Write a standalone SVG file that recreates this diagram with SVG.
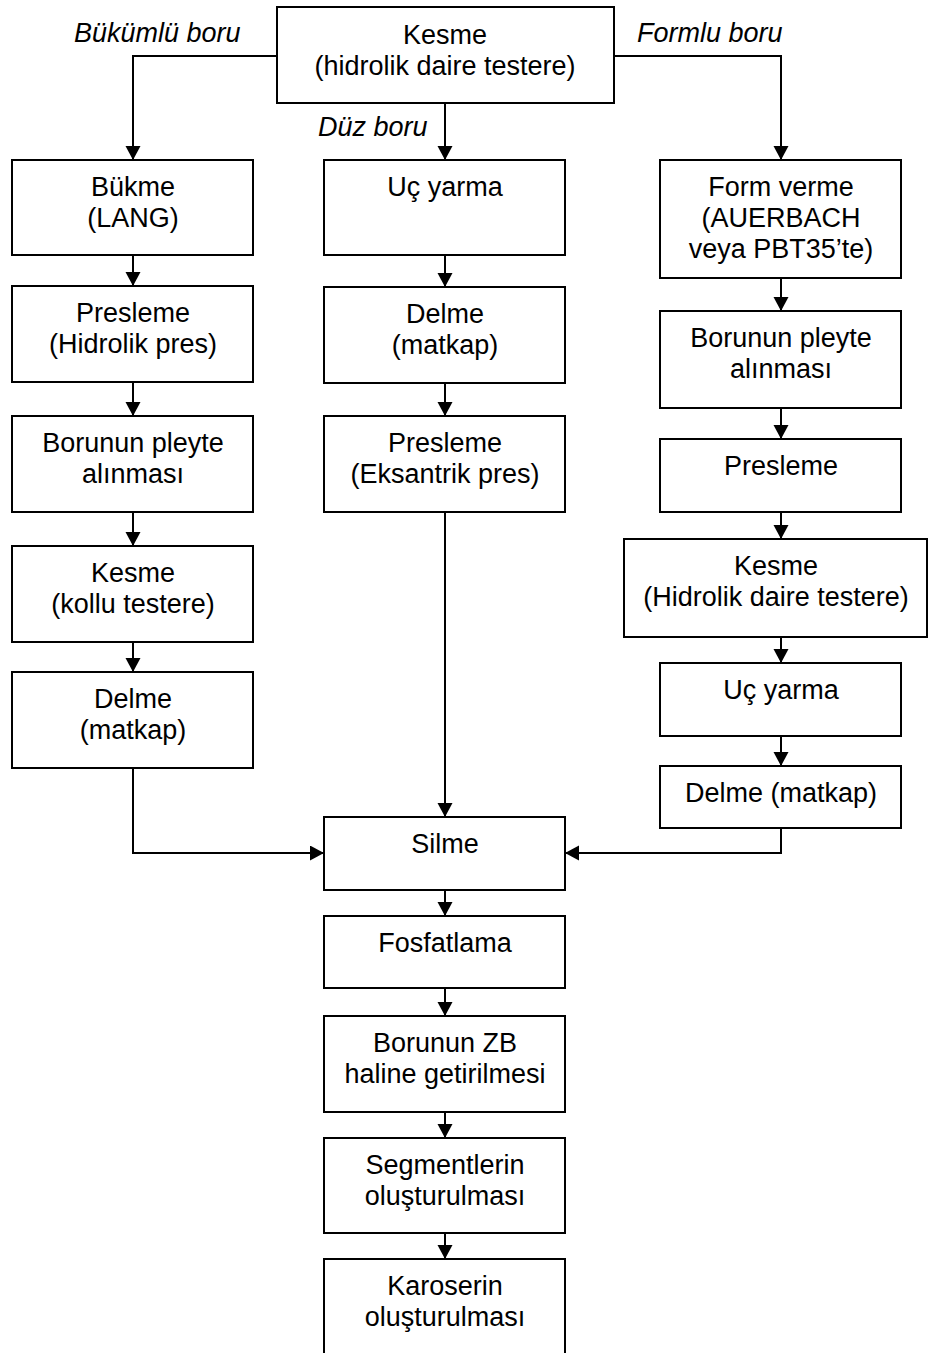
<svg xmlns="http://www.w3.org/2000/svg" width="928" height="1353" viewBox="0 0 928 1353">
  <style>
    .box { fill: #fff; stroke: #000; stroke-width: 2; }
    .t { font-family: "Liberation Sans", Arial, sans-serif; font-size: 27px; fill: #000; text-anchor: middle; }
    .lbl { font-family: "Liberation Sans", Arial, sans-serif; font-size: 27px; font-style: italic; fill: #000; }
    .c { fill: none; stroke: #000; stroke-width: 2; }
  </style>
  <defs>
    <marker id="arrow" markerUnits="userSpaceOnUse" markerWidth="15" markerHeight="16" refX="14" refY="7.5" orient="auto">
      <path d="M0,0 L14,7.5 L0,15 Z" fill="#000"/>
    </marker>
  </defs>
  <rect width="928" height="1353" fill="#fff"/>

  <!-- connectors -->
  <g id="connectors">
    <path class="c" d="M277,56 H133 V160" marker-end="url(#arrow)"/>
    <path class="c" d="M445,103 V160" marker-end="url(#arrow)"/>
    <path class="c" d="M614,56 H781 V160" marker-end="url(#arrow)"/>

    <path class="c" d="M133,255 V286" marker-end="url(#arrow)"/>
    <path class="c" d="M133,382 V416" marker-end="url(#arrow)"/>
    <path class="c" d="M133,512 V546" marker-end="url(#arrow)"/>
    <path class="c" d="M133,642 V672" marker-end="url(#arrow)"/>
    <path class="c" d="M133,768 V853 H324" marker-end="url(#arrow)"/>

    <path class="c" d="M445,255 V287" marker-end="url(#arrow)"/>
    <path class="c" d="M445,383 V416" marker-end="url(#arrow)"/>
    <path class="c" d="M445,512 V817" marker-end="url(#arrow)"/>

    <path class="c" d="M781,278 V311" marker-end="url(#arrow)"/>
    <path class="c" d="M781,408 V439" marker-end="url(#arrow)"/>
    <path class="c" d="M781,512 V539" marker-end="url(#arrow)"/>
    <path class="c" d="M781,637 V663" marker-end="url(#arrow)"/>
    <path class="c" d="M781,736 V766" marker-end="url(#arrow)"/>
    <path class="c" d="M781,828 V853 H565" marker-end="url(#arrow)"/>

    <path class="c" d="M445,890 V916" marker-end="url(#arrow)"/>
    <path class="c" d="M445,988 V1016" marker-end="url(#arrow)"/>
    <path class="c" d="M445,1112 V1138" marker-end="url(#arrow)"/>
    <path class="c" d="M445,1233 V1259" marker-end="url(#arrow)"/>
  </g>

  <!-- branch labels -->
  <text class="lbl" x="74" y="42">Bükümlü boru</text>
  <text class="lbl" x="637" y="42">Formlu boru</text>
  <text class="lbl" x="318" y="136">Düz boru</text>

  <!-- top -->
  <g id="kesme-top">
    <rect class="box" x="277" y="7" width="337" height="96"/>
    <text class="t" x="445" y="44">Kesme</text>
    <text class="t" x="445" y="75">(hidrolik daire testere)</text>
  </g>

  <!-- left column -->
  <g id="bukme">
    <rect class="box" x="12" y="160" width="241" height="95"/>
    <text class="t" x="133" y="196">Bükme</text>
    <text class="t" x="133" y="227">(LANG)</text>
  </g>
  <g id="presleme-hidrolik">
    <rect class="box" x="12" y="286" width="241" height="96"/>
    <text class="t" x="133" y="322">Presleme</text>
    <text class="t" x="133" y="353">(Hidrolik pres)</text>
  </g>
  <g id="pleyte-left">
    <rect class="box" x="12" y="416" width="241" height="96"/>
    <text class="t" x="133" y="452">Borunun pleyte</text>
    <text class="t" x="133" y="483">alınması</text>
  </g>
  <g id="kesme-kollu">
    <rect class="box" x="12" y="546" width="241" height="96"/>
    <text class="t" x="133" y="582">Kesme</text>
    <text class="t" x="133" y="613">(kollu testere)</text>
  </g>
  <g id="delme-left">
    <rect class="box" x="12" y="672" width="241" height="96"/>
    <text class="t" x="133" y="708">Delme</text>
    <text class="t" x="133" y="739">(matkap)</text>
  </g>

  <!-- middle column -->
  <g id="uc-yarma-mid">
    <rect class="box" x="324" y="160" width="241" height="95"/>
    <text class="t" x="445" y="196">Uç yarma</text>
  </g>
  <g id="delme-mid">
    <rect class="box" x="324" y="287" width="241" height="96"/>
    <text class="t" x="445" y="323">Delme</text>
    <text class="t" x="445" y="354">(matkap)</text>
  </g>
  <g id="presleme-eksantrik">
    <rect class="box" x="324" y="416" width="241" height="96"/>
    <text class="t" x="445" y="452">Presleme</text>
    <text class="t" x="445" y="483">(Eksantrik pres)</text>
  </g>
  <g id="silme">
    <rect class="box" x="324" y="817" width="241" height="73"/>
    <text class="t" x="445" y="853">Silme</text>
  </g>
  <g id="fosfatlama">
    <rect class="box" x="324" y="916" width="241" height="72"/>
    <text class="t" x="445" y="952">Fosfatlama</text>
  </g>
  <g id="zb">
    <rect class="box" x="324" y="1016" width="241" height="96"/>
    <text class="t" x="445" y="1052">Borunun ZB</text>
    <text class="t" x="445" y="1083">haline getirilmesi</text>
  </g>
  <g id="segmentler">
    <rect class="box" x="324" y="1138" width="241" height="95"/>
    <text class="t" x="445" y="1174">Segmentlerin</text>
    <text class="t" x="445" y="1205">oluşturulması</text>
  </g>
  <g id="karoser">
    <rect class="box" x="324" y="1259" width="241" height="100"/>
    <text class="t" x="445" y="1295">Karoserin</text>
    <text class="t" x="445" y="1326">oluşturulması</text>
  </g>

  <!-- right column -->
  <g id="form-verme">
    <rect class="box" x="660" y="160" width="241" height="118"/>
    <text class="t" x="781" y="196">Form verme</text>
    <text class="t" x="781" y="227">(AUERBACH</text>
    <text class="t" x="781" y="258">veya PBT35’te)</text>
  </g>
  <g id="pleyte-right">
    <rect class="box" x="660" y="311" width="241" height="97"/>
    <text class="t" x="781" y="347">Borunun pleyte</text>
    <text class="t" x="781" y="378">alınması</text>
  </g>
  <g id="presleme-right">
    <rect class="box" x="660" y="439" width="241" height="73"/>
    <text class="t" x="781" y="475">Presleme</text>
  </g>
  <g id="kesme-right">
    <rect class="box" x="624" y="539" width="303" height="98"/>
    <text class="t" x="776" y="575">Kesme</text>
    <text class="t" x="776" y="606">(Hidrolik daire testere)</text>
  </g>
  <g id="uc-yarma-right">
    <rect class="box" x="660" y="663" width="241" height="73"/>
    <text class="t" x="781" y="699">Uç yarma</text>
  </g>
  <g id="delme-right">
    <rect class="box" x="660" y="766" width="241" height="62"/>
    <text class="t" x="781" y="802">Delme (matkap)</text>
  </g>
</svg>
